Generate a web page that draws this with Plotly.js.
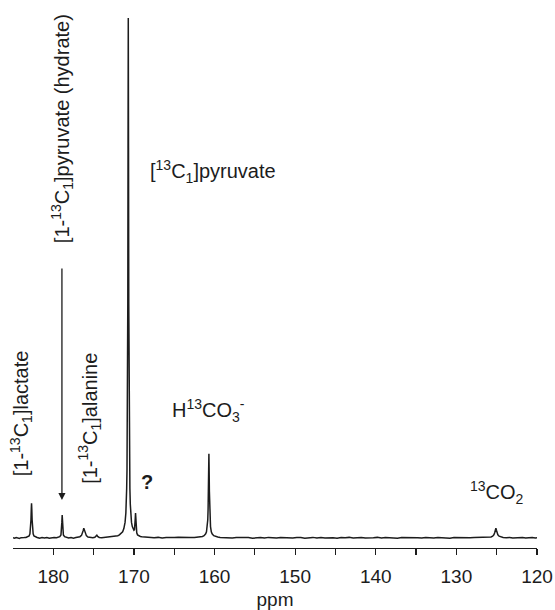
<!DOCTYPE html>
<html>
<head>
<meta charset="utf-8">
<script src="https://cdn.plot.ly/plotly-3.0.1.min.js"></script>
<style>html,body{margin:0;padding:0;background:#fff;}#chart{width:555px;height:610px;}</style>
</head>
<body>
<div id="chart"></div>
<script>
// Spectrum points (chemical shift in ppm, relative intensity)
const ppm = [
  185.0,184.8,184.6,184.4,184.2,184.0,183.8,183.6,183.4,
  183.2,183.0,182.9,182.82,182.77,182.73,182.7,182.67,182.63,182.58,182.5,182.4,182.2,
  182.0,181.7,181.4,181.1,180.8,180.5,180.2,179.9,179.6,179.4,
  179.2,179.05,178.98,178.94,178.9,178.86,178.82,178.75,178.6,
  178.4,178.1,177.8,177.5,177.2,176.9,
  176.7,176.5,176.38,176.28,176.22,176.15,176.05,175.9,175.7,
  175.4,175.1,174.85,
  174.7,174.6,174.5,174.3,
  174.0,173.6,173.2,172.9,172.6,
  172.3,172.0,171.8,171.6,171.4,171.25,171.1,171.0,170.95,170.9,170.86,170.82,170.79,170.76,170.73,
  170.7,
  170.67,170.64,170.61,170.58,170.54,170.5,170.45,170.4,170.3,170.2,170.1,170.0,169.93,
  169.88,169.84,169.8,169.76,169.72,169.65,169.55,169.4,169.2,169.0,168.7,168.4,
  168.0,167.5,167.0,166.5,166.0,165.5,165.0,164.5,164.0,163.5,163.0,162.5,162.0,161.7,
  161.5,161.3,161.1,161.0,160.9,160.84,160.8,160.76,160.73,160.7,160.67,160.64,160.6,160.56,160.5,160.4,160.3,160.1,159.9,159.6,
  159.3,158.8,158.3,157.8,157.3,156.8,156.3,155.8,155.3,154.8,154.3,153.8,153.3,152.8,152.3,151.8,151.3,150.8,150.3,149.8,
  149.3,148.8,148.3,147.8,147.3,146.8,146.3,145.8,145.3,144.8,144.3,143.8,143.3,142.8,142.3,141.8,141.3,140.8,140.3,139.8,
  139.3,138.8,138.3,137.8,137.3,136.8,136.3,135.8,135.3,134.8,134.3,133.8,133.3,132.8,132.3,131.8,131.3,130.8,130.3,129.8,
  129.3,128.8,128.3,127.8,127.3,126.8,126.3,
  126.0,125.7,125.5,125.35,125.25,125.17,125.1,125.03,124.95,124.85,124.7,124.5,124.2,
  123.8,123.4,123.0,122.6,122.2,121.8,121.4,121.0,120.6,120.2,120.0
];
const intensity = [
  0.05,-0.05,0.1,0.0,-0.08,0.06,0.0,0.08,0.1,
  0.2,0.4,0.8,1.8,3.5,5.6,6.7,5.6,3.5,1.8,0.8,0.4,0.2,
  0.1,-0.05,0.08,0.0,0.1,-0.05,0.06,0.1,0.05,0.15,
  0.25,0.6,1.5,3.0,4.4,3.0,1.5,0.6,0.25,
  0.1,0.0,0.1,-0.03,0.08,0.15,
  0.25,0.5,0.9,1.5,1.9,1.6,0.9,0.45,0.2,
  0.1,0.05,0.15,
  0.3,0.55,0.3,0.1,
  0.05,0.12,0.1,0.2,0.25,
  0.35,0.45,0.6,0.85,1.2,1.8,3.0,4.8,6.5,9.5,13,20,28,45,75,
  100,
  75,45,28,20,13,9.5,6.5,4.8,3.0,2.2,1.7,1.5,1.6,
  2.2,3.6,4.8,3.5,1.9,1.0,0.6,0.4,0.3,0.25,0.2,0.15,
  0.1,0.05,0.12,0.0,0.1,0.05,0.1,0.15,0.1,0.05,0.1,0.12,0.15,0.2,
  0.3,0.45,0.8,1.2,2.2,3.5,5.5,9,13,16.2,13,9,5.5,3.5,2.2,1.2,0.8,0.45,0.3,0.2,
  0.12,0.05,0.1,0.0,0.08,0.12,0.02,0.1,-0.04,0.08,0.1,0.0,0.12,0.06,-0.02,0.1,0.05,0.12,0.0,0.08,
  0.1,-0.03,0.06,0.12,0.02,0.09,0.0,0.1,0.06,-0.04,0.1,0.04,0.12,0.0,0.07,0.1,-0.02,0.08,0.05,0.12,
  0.0,0.09,0.04,0.11,-0.03,0.08,0.1,0.02,0.12,0.05,-0.02,0.1,0.06,0.0,0.11,0.04,0.09,-0.03,0.1,0.06,
  0.02,0.12,0.05,0.08,0.1,0.12,0.15,
  0.1,0.2,0.35,0.6,1.0,1.5,1.9,1.5,1.0,0.6,0.35,0.2,0.1,
  0.05,0.1,0.0,0.08,0.05,0.1,-0.02,0.06,0.1,0.0,0.05
];
const tickValues = [180,175,170,165,160,155,150,145,140,135,130,125,120];
const tickLabels = ['180','','170','','160','','150','','140','','130','','120'];

const FONT = 'Liberation Sans, Arial, Helvetica, sans-serif';
const INK = '#1c1c1c';

const trace = {
  x: ppm, y: intensity, type: 'scatter', mode: 'lines',
  line: {color: INK, width: 1.5, shape: 'linear'},
  hoverinfo: 'skip'
};

const ann = (text, x, y, angle, extra) => Object.assign({
  text: text, x: x, y: y, xref: 'x', yref: 'y', showarrow: false,
  textangle: angle, xanchor: 'center', yanchor: 'middle',
  font: {family: FONT, size: 20, color: INK}
}, extra || {});

const layout = {
  width: 555, height: 610,
  margin: {l: 13, r: 18, t: 10, b: 62, pad: 0},
  paper_bgcolor: '#fff', plot_bgcolor: '#fff',
  showlegend: false,
  xaxis: {
    range: [185, 120], autorange: false,
    tickmode: 'array', tickvals: tickValues, ticktext: tickLabels,
    ticks: 'outside', ticklen: 6, tickwidth: 1.2, tickcolor: INK,
    ticklabelstandoff: 5,
    showline: true, linecolor: INK, linewidth: 1.2,
    showgrid: false, zeroline: false,
    tickfont: {family: FONT, size: 19, color: INK},
    title: {text: 'ppm', font: {family: FONT, size: 19, color: INK}, standoff: 7}
  },
  yaxis: {visible: false, range: [-1.923, 101.54], autorange: false, showgrid: false, zeroline: false},
  annotations: [
    ann('[1-<sup>13</sup>C<sub>1</sub>]lactate', 184.0, 24.0, -90),
    ann('[1-<sup>13</sup>C<sub>1</sub>]alanine', 175.45, 23.1, -90),
    ann('[1-<sup>13</sup>C<sub>1</sub>]pyruvate (hydrate)', 178.93, 78.8, -90),
    ann('[<sup>13</sup>C<sub>1</sub>]pyruvate', 160.2, 70.4, 0),
    ann('H<sup>13</sup>CO<sub>3</sub><sup>-</sup>', 160.7, 24.6, 0),
    ann('<b>?</b>', 168.4, 10.8, 0),
    ann('<sup>13</sup>CO<sub>2</sub>', 125.0, 8.7, 0),
    {text: '', x: 178.93, y: 7.3, xref: 'x', yref: 'y', ax: 178.93, ay: 52.1, axref: 'x', ayref: 'y',
     showarrow: true, arrowhead: 2, arrowsize: 1.1, arrowwidth: 1.3, arrowcolor: INK, standoff: 0}
  ]
};

Plotly.newPlot('chart', [trace], layout, {staticPlot: true, displayModeBar: false});
</script>
</body>
</html>
